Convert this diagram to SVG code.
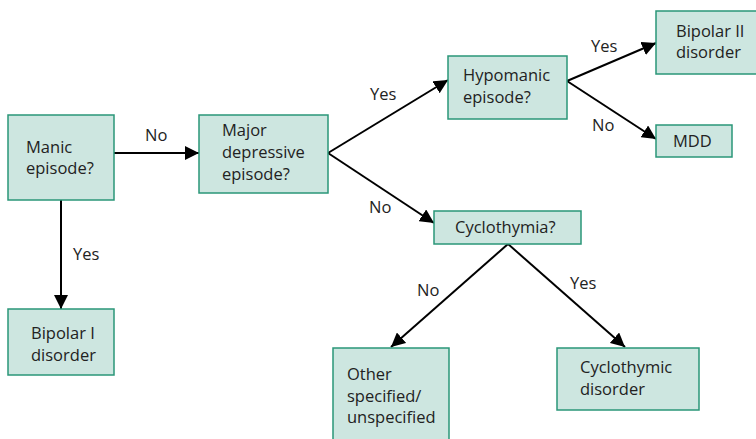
<svg xmlns="http://www.w3.org/2000/svg" width="756" height="439" viewBox="0 0 756 439">
  <defs>
    <style>
      .box { fill: #cde6e0; stroke: #2a9678; stroke-width: 1.5; }
      .t { font-family: "Open Sans", "Noto Sans", "DejaVu Sans", sans-serif; font-size: 16.5px; fill: #222; }
      .edge { stroke: #000; stroke-width: 2; fill: none; marker-end: url(#arr); }
    </style>
    <marker id="arr" viewBox="0 0 14 14" refX="14" refY="7" markerWidth="7" markerHeight="7" markerUnits="strokeWidth" orient="auto">
      <path d="M0,0 L14,7 L0,14 z" fill="#000"/>
    </marker>
  </defs>
  <rect width="756" height="439" fill="#fff"/>

  <g id="connectors">
    <line class="edge" x1="114" y1="153" x2="199" y2="153"/>
    <line class="edge" x1="61" y1="200" x2="61" y2="309"/>
    <line class="edge" x1="328" y1="153" x2="448" y2="80"/>
    <line class="edge" x1="328" y1="153" x2="434" y2="223"/>
    <line class="edge" x1="567" y1="81" x2="656" y2="43"/>
    <line class="edge" x1="567" y1="81" x2="656" y2="139"/>
    <line class="edge" x1="508" y1="244" x2="391" y2="347"/>
    <line class="edge" x1="508" y1="244" x2="625" y2="347"/>
    <text class="t" x="145" y="141">No</text>
    <text class="t" x="73" y="260">Yes</text>
    <text class="t" x="370" y="100">Yes</text>
    <text class="t" x="369" y="213">No</text>
    <text class="t" x="591" y="52">Yes</text>
    <text class="t" x="592" y="131">No</text>
    <text class="t" x="417" y="296">No</text>
    <text class="t" x="570" y="289">Yes</text>
  </g>

  <g id="manic">
    <rect class="box" x="8" y="115" width="106" height="85"/>
    <text class="t" x="26" y="153">Manic</text>
    <text class="t" x="26" y="174">episode?</text>
  </g>
  <g id="major-depressive">
    <rect class="box" x="199" y="115" width="129" height="78"/>
    <text class="t" x="222" y="136">Major</text>
    <text class="t" x="222" y="158">depressive</text>
    <text class="t" x="222" y="180">episode?</text>
  </g>
  <g id="bipolar-1">
    <rect class="box" x="8" y="309" width="106" height="66"/>
    <text class="t" x="31" y="339">Bipolar I</text>
    <text class="t" x="31" y="361">disorder</text>
  </g>
  <g id="hypomanic">
    <rect class="box" x="448" y="56" width="119" height="63"/>
    <text class="t" x="463" y="81">Hypomanic</text>
    <text class="t" x="463" y="103">episode?</text>
  </g>
  <g id="bipolar-2">
    <rect class="box" x="656" y="11" width="104" height="63"/>
    <text class="t" x="676" y="37">Bipolar II</text>
    <text class="t" x="676" y="58">disorder</text>
  </g>
  <g id="mdd">
    <rect class="box" x="656" y="125" width="76" height="32"/>
    <text class="t" x="673" y="147">MDD</text>
  </g>
  <g id="cyclothymia">
    <rect class="box" x="434" y="211" width="147" height="33"/>
    <text class="t" x="455" y="233">Cyclothymia?</text>
  </g>
  <g id="other">
    <rect class="box" x="333" y="348" width="116" height="96"/>
    <text class="t" x="347" y="380">Other</text>
    <text class="t" x="347" y="402">specified/</text>
    <text class="t" x="347" y="423">unspecified</text>
  </g>
  <g id="cyclothymic">
    <rect class="box" x="557" y="348" width="142" height="62"/>
    <text class="t" x="580" y="373">Cyclothymic</text>
    <text class="t" x="580" y="395">disorder</text>
  </g>
</svg>
